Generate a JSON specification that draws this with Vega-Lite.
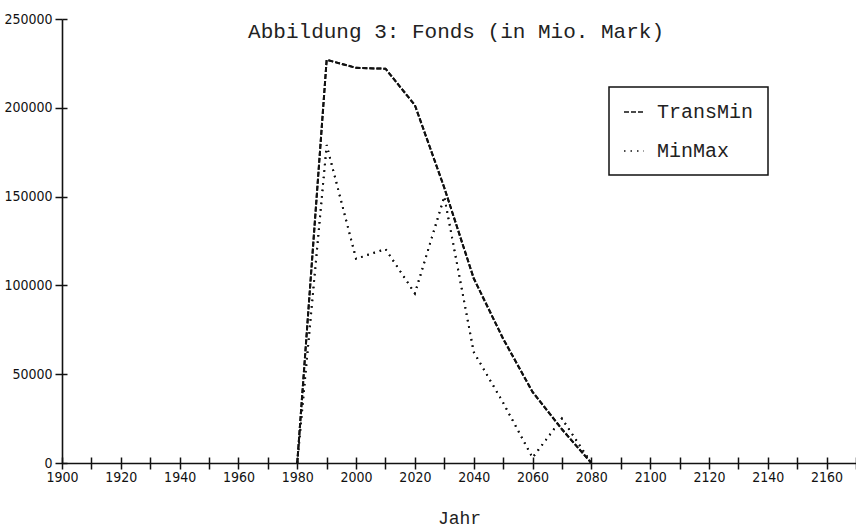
{
  "$schema": "https://vega.github.io/schema/vega-lite/v6.json",
  "width": 794,
  "height": 444,
  "autosize": "none",
  "padding": {"left": 62, "top": 19, "right": 0, "bottom": 64},
  "background": "white",
  "data": {
    "values": [
      {"Jahr": 1980, "Wert": 0, "Serie": "TransMin"},
      {"Jahr": 1990, "Wert": 227000, "Serie": "TransMin"},
      {"Jahr": 2000, "Wert": 222500, "Serie": "TransMin"},
      {"Jahr": 2010, "Wert": 222000, "Serie": "TransMin"},
      {"Jahr": 2020, "Wert": 201500, "Serie": "TransMin"},
      {"Jahr": 2030, "Wert": 155000, "Serie": "TransMin"},
      {"Jahr": 2040, "Wert": 104000, "Serie": "TransMin"},
      {"Jahr": 2050, "Wert": 70000, "Serie": "TransMin"},
      {"Jahr": 2060, "Wert": 40000, "Serie": "TransMin"},
      {"Jahr": 2070, "Wert": 19000, "Serie": "TransMin"},
      {"Jahr": 2080, "Wert": 0, "Serie": "TransMin"},
      {"Jahr": 1980, "Wert": 0, "Serie": "MinMax"},
      {"Jahr": 1990, "Wert": 179000, "Serie": "MinMax"},
      {"Jahr": 2000, "Wert": 115000, "Serie": "MinMax"},
      {"Jahr": 2010, "Wert": 120500, "Serie": "MinMax"},
      {"Jahr": 2020, "Wert": 95500, "Serie": "MinMax"},
      {"Jahr": 2030, "Wert": 150000, "Serie": "MinMax"},
      {"Jahr": 2040, "Wert": 62500, "Serie": "MinMax"},
      {"Jahr": 2050, "Wert": 34000, "Serie": "MinMax"},
      {"Jahr": 2060, "Wert": 3000, "Serie": "MinMax"},
      {"Jahr": 2070, "Wert": 25000, "Serie": "MinMax"},
      {"Jahr": 2080, "Wert": 0, "Serie": "MinMax"}
    ]
  },
  "config": {
    "view": {"stroke": null},
    "legend": {"strokeWidth": 1.5},
    "axis": {
      "domainColor": "#111",
      "domainWidth": 1.6,
      "tickColor": "#111",
      "tickWidth": 1.5,
      "grid": false,
      "labelFont": "Liberation Sans Narrow, DejaVu Sans Condensed, sans-serif",
      "labelFontSize": 14,
      "labelColor": "#111",
      "titleFont": "Liberation Mono",
      "titleFontWeight": "normal",
      "titleFontSize": 18,
      "titleColor": "#222"
    }
  },
  "resolve": {"axis": {"x": "independent", "y": "independent"}},
  "layer": [
    {
      "mark": {"type": "line", "strokeWidth": 2, "color": "#111"},
      "encoding": {
        "x": {
          "field": "Jahr", "type": "quantitative",
          "scale": {"domain": [1900, 2170], "nice": false, "zero": false},
          "axis": {
            "orient": "bottom",
            "values": [1900,1910,1920,1930,1940,1950,1960,1970,1980,1990,2000,2010,2020,2030,2040,2050,2060,2070,2080,2090,2100,2110,2120,2130,2140,2150,2160,2170],
            "labelExpr": "datum.value % 20 == 0 && datum.value < 2170 ? datum.value + '' : ''",
            "tickSize": 6,
            "labelPadding": 1,
            "title": "Jahr",
            "titlePadding": 25,
            "labelFlush": false,
            "labelOverlap": false
          }
        },
        "y": {
          "field": "Wert", "type": "quantitative",
          "scale": {"domain": [0, 250000], "nice": false},
          "axis": {
            "orient": "left",
            "values": [0, 50000, 100000, 150000, 200000, 250000],
            "format": "d",
            "tickSize": 7,
            "labelPadding": 3,
            "title": null
          }
        },
        "strokeDash": {
          "field": "Serie", "type": "nominal",
          "scale": {"domain": ["TransMin", "MinMax"], "range": [[5, 2], [1.5, 5]]},
          "legend": {
            "title": null,
            "orient": "none",
            "legendX": 547,
            "legendY": 68,
            "strokeColor": "#111",
            "fillColor": "white",
            "padding": 14,
            "labelFont": "Liberation Mono",
            "labelFontSize": 20,
            "labelColor": "#222",
            "symbolType": "stroke",
            "symbolSize": 400,
            "symbolStrokeColor": "#111",
            "symbolStrokeWidth": 1.5,
            "rowPadding": 18,
            "labelOffset": 12
          }
        }
      }
    },
    {
      "mark": {"type": "line", "strokeWidth": 2, "color": "#111"},
      "encoding": {
        "x": {
          "field": "Jahr", "type": "quantitative",
          "axis": {
            "orient": "bottom",
            "values": [1900,1910,1920,1930,1940,1950,1960,1970,1980,1990,2000,2010,2020,2030,2040,2050,2060,2070,2080,2090,2100,2110,2120,2130,2140,2150,2160,2170],
            "labels": false,
            "domain": false,
            "tickSize": -6,
            "title": null
          }
        },
        "y": {
          "field": "Wert", "type": "quantitative",
          "axis": {
            "orient": "left",
            "values": [0, 50000, 100000, 150000, 200000, 250000],
            "labels": false,
            "domain": false,
            "tickSize": -5,
            "title": null
          }
        },
        "strokeDash": {"field": "Serie", "type": "nominal"}
      }
    },
    {
      "data": {"values": [{"Titel": "Abbildung 3: Fonds (in Mio. Mark)", "Jahr": 2034, "Wert": 239300}]},
      "mark": {"type": "text", "font": "Liberation Mono", "fontSize": 21, "color": "#222", "align": "center", "baseline": "alphabetic"},
      "encoding": {
        "x": {"field": "Jahr", "type": "quantitative", "axis": null},
        "y": {"field": "Wert", "type": "quantitative", "axis": null},
        "text": {"field": "Titel"}
      }
    }
  ]
}
